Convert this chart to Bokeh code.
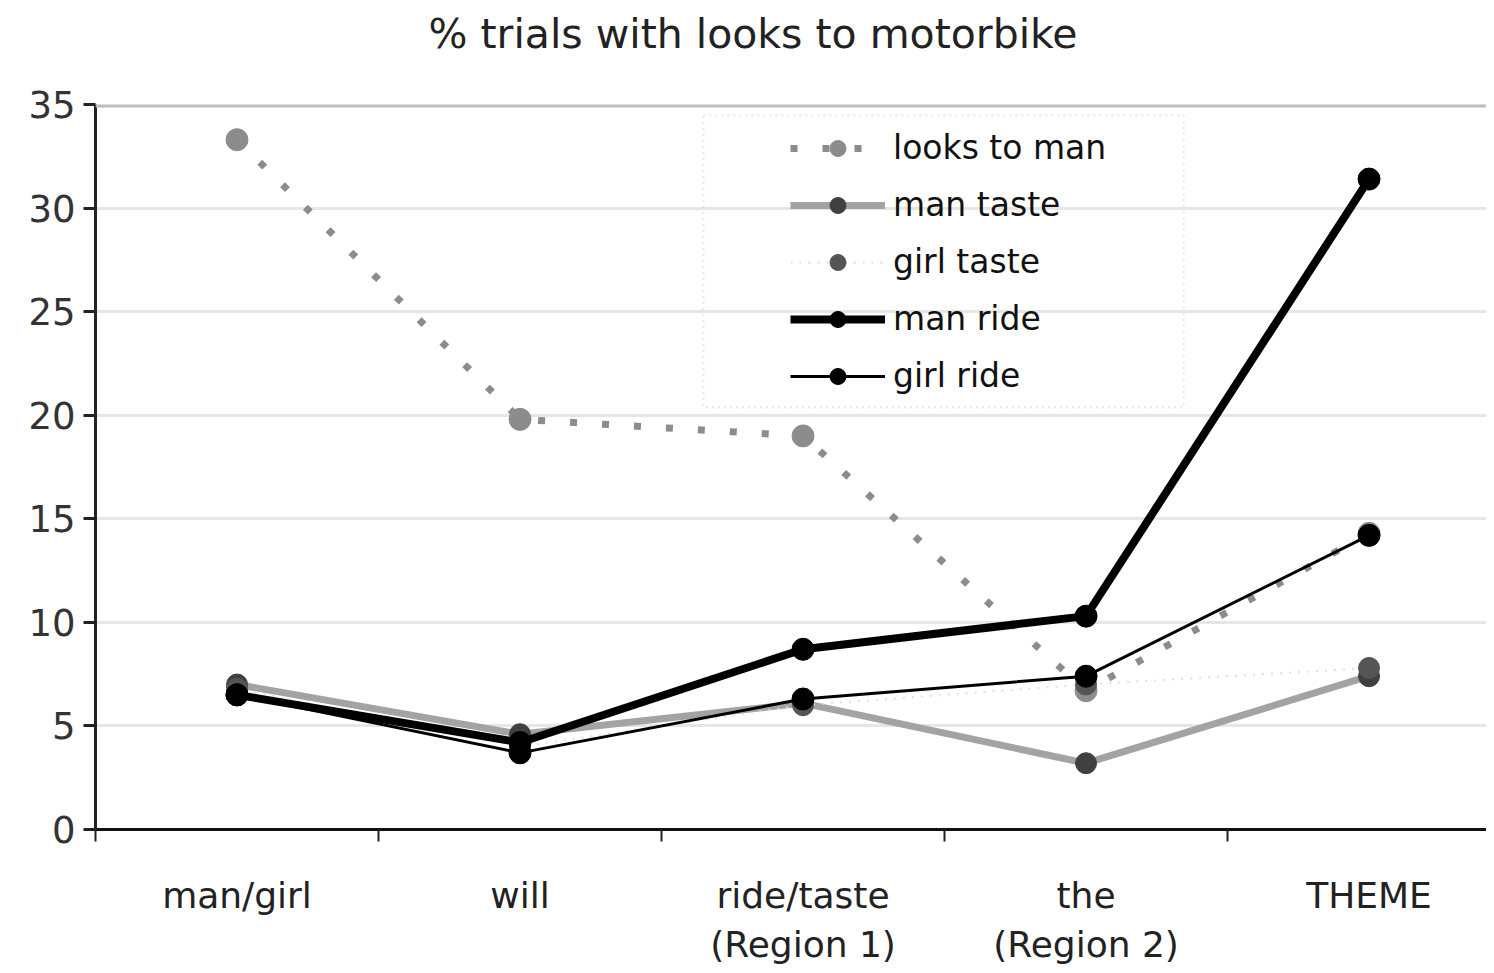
from bokeh.plotting import figure
from bokeh.models import (Range1d, FixedTicker, Legend, LegendItem, Span, Title,
                          BoxAnnotation, LinearAxis, Grid)
from bokeh.embed import file_html
from bokeh.resources import INLINE

categories = ["man/girl", "will", "ride/taste\n(Region 1)", "the\n(Region 2)", "THEME"]
xpos = [0.5, 1.5, 2.5, 3.5, 4.5]

looks_to_man = [33.3, 19.8, 19.0, 6.7, 14.3]
man_taste = [7.0, 4.6, 6.1, 3.2, 7.4]
girl_taste = [6.8, 4.0, 6.0, 7.0, 7.8]
man_ride = [6.5, 4.2, 8.7, 10.3, 31.4]
girl_ride = [6.5, 3.7, 6.3, 7.4, 14.2]

y_ticks = [0, 5, 10, 15, 20, 25, 30, 35]
FONT = "DejaVu Sans"

p = figure(width=1486, height=967, output_backend="svg", toolbar_location=None,
           x_range=Range1d(0, 4.915), y_range=Range1d(0, 35),
           min_border_left=95, min_border_right=0, min_border_top=104,
           min_border_bottom=138, x_axis_type=None, y_axis_type=None)
p.outline_line_color = None
p.background_fill_color = "white"
p.border_fill_color = "white"

# spacer between frame and title, then the title itself
p.add_layout(Title(text=" ", text_font_size="1px", standoff=44), "above")
t = Title(text="% trials with looks to motorbike", align="left", offset=333,
          text_font=FONT, text_font_size="41px", text_color="#222222",
          text_font_style="normal", standoff=0)
p.add_layout(t, "above")

# grid
p.add_layout(Grid(dimension=1, ticker=FixedTicker(ticks=y_ticks[1:-1]),
                  grid_line_color="#e6e6e6", grid_line_width=3))
p.add_layout(Span(location=35, dimension="width", line_color="#bdbdbd", line_width=6))

# y axis
yax = LinearAxis(ticker=FixedTicker(ticks=y_ticks))
yax.axis_line_color = "#222222"
yax.axis_line_width = 3
yax.major_tick_out = 12
yax.major_tick_in = 0
yax.major_tick_line_width = 3
yax.major_tick_line_color = "#222222"
yax.minor_tick_out = 0
yax.minor_tick_in = 0
yax.major_label_standoff = 8
yax.major_label_text_font = FONT
yax.major_label_text_font_size = "37px"
yax.major_label_text_color = "#333333"
p.add_layout(yax, "left")

# x axis
xax = LinearAxis(ticker=FixedTicker(ticks=xpos, minor_ticks=[0, 1, 2, 3, 4]))
xax.axis_line_color = "#111111"
xax.axis_line_width = 3
xax.major_tick_out = 0
xax.major_tick_in = 0
xax.minor_tick_out = 12
xax.minor_tick_in = 0
xax.minor_tick_line_width = 2
xax.minor_tick_line_color = "#222222"
xax.major_label_overrides = {x: c for x, c in zip(xpos, categories)}
xax.major_label_standoff = 33
xax.major_label_text_font = FONT
xax.major_label_text_font_size = "36px"
xax.major_label_text_color = "#222222"
p.add_layout(xax, "below")

# series
r1l = p.line(xpos, looks_to_man, line_color="#8c8c8c", line_width=7, line_dash="7 25")
r1m = p.scatter(xpos, looks_to_man, size=22, fill_color="#8c8c8c", line_color="#8c8c8c")

r2l = p.line(xpos, man_taste, line_color="#a3a3a3", line_width=7)
r2m = p.scatter(xpos, man_taste, size=21, fill_color="#404040", line_color="#404040")

r3l = p.line(xpos, girl_taste, line_color="#e0e0e0", line_width=2, line_dash="2 7")
r3m = p.scatter(xpos, girl_taste, size=21, fill_color="#555555", line_color="#555555")

r4l = p.line(xpos, man_ride, line_color="#000000", line_width=8)
r4m = p.scatter(xpos, man_ride, size=22, fill_color="#000000", line_color="#000000")

r5l = p.line(xpos, girl_ride, line_color="#000000", line_width=3)
r5m = p.scatter(xpos, girl_ride, size=22, fill_color="#000000", line_color="#000000")

legend = Legend(items=[
    LegendItem(label="looks to man", renderers=[r1l, r1m]),
    LegendItem(label="man taste", renderers=[r2l, r2m]),
    LegendItem(label="girl taste", renderers=[r3l, r3m]),
    LegendItem(label="man ride", renderers=[r4l, r4m]),
    LegendItem(label="girl ride", renderers=[r5l, r5m]),
], location=(690, 420))
legend.padding = 5
legend.spacing = 0
legend.glyph_width = 95
legend.glyph_height = 40
legend.label_height = 57
legend.label_standoff = 8
legend.label_text_font = FONT
legend.label_text_font_size = "33px"
legend.label_text_color = "#111111"
legend.border_line_alpha = 0
legend.background_fill_alpha = 0
p.add_layout(legend, "center")

# legend frame (dotted)
p.add_layout(BoxAnnotation(left=2.148, right=3.845, bottom=20.38, top=34.48,
                           fill_alpha=0, line_color="#b5b5b5", line_width=2,
                           line_dash="2 4"))

open("out.html", "w").write(file_html(p, INLINE))
